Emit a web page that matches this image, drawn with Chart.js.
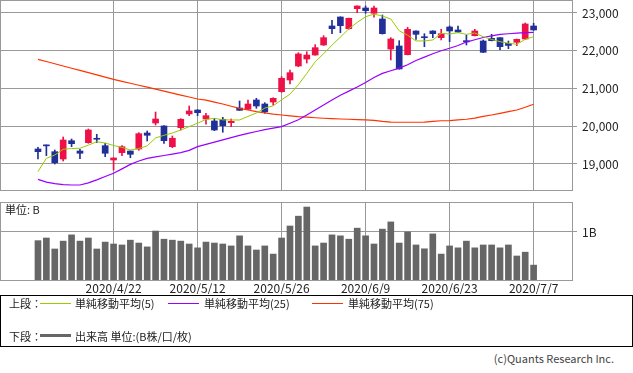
<!DOCTYPE html>
<html>
<head>
<meta charset="utf-8">
<script src="https://cdn.jsdelivr.net/npm/chart.js@4.4.0/dist/chart.umd.min.js"></script>
<style>
  body { margin: 0; background: #fff; width: 633px; height: 373px; position: relative; overflow: hidden;
         font-family: "Noto Sans CJK JP", "Noto Sans", sans-serif; color: #222; }
  canvas { position: absolute; left: 0; }
  #price { top: 0; }
  #vol { top: 200px; }
  .t { position: absolute; font-size: 11px; line-height: 12px; white-space: nowrap; }
  .ln { position: absolute; height: 0; width: 31px; }
  #legend { position: absolute; left: 0; top: 295px; width: 631px; height: 50px; border: 1px solid #000; }
</style>
</head>
<body>
<canvas id="price" width="633" height="192"></canvas>
<canvas id="vol" width="633" height="97"></canvas>
<div class="t" style="left:5px;top:203px">単位: B</div>
<div id="legend">
  <div class="t" style="left:8px;top:1px">上段：</div>
  <div class="ln" style="left:39px;top:7px;border-top:1px solid #99cc00"></div>
  <div class="t" style="left:74px;top:1px">単純移動平均(5)</div>
  <div class="ln" style="left:167px;top:7px;border-top:1px solid #9900ff"></div>
  <div class="t" style="left:203px;top:1px">単純移動平均(25)</div>
  <div class="ln" style="left:311px;top:7px;border-top:1px solid #ff3300"></div>
  <div class="t" style="left:347px;top:1px">単純移動平均(75)</div>
  <div class="t" style="left:8px;top:34px">下段：</div>
  <div class="ln" style="left:39px;top:38px;border-top:3px solid #666"></div>
  <div class="t" style="left:74px;top:34px">出来高 単位:(B株/口/枚)</div>
</div>
<div class="t" style="right:19px;top:352px;color:#444">(c)Quants Research Inc.</div>

<script>
const dates = ['2020/4/9','2020/4/10','2020/4/13','2020/4/14','2020/4/15','2020/4/16','2020/4/17','2020/4/20','2020/4/21','2020/4/22',
  '2020/4/23','2020/4/24','2020/4/27','2020/4/28','2020/4/30','2020/5/1','2020/5/7','2020/5/8','2020/5/11','2020/5/12',
  '2020/5/13','2020/5/14','2020/5/15','2020/5/18','2020/5/19','2020/5/20','2020/5/21','2020/5/22','2020/5/25','2020/5/26',
  '2020/5/27','2020/5/28','2020/5/29','2020/6/1','2020/6/2','2020/6/3','2020/6/4','2020/6/5','2020/6/8','2020/6/9',
  '2020/6/10','2020/6/11','2020/6/12','2020/6/15','2020/6/16','2020/6/17','2020/6/18','2020/6/19','2020/6/22','2020/6/23',
  '2020/6/24','2020/6/25','2020/6/26','2020/6/29','2020/6/30','2020/7/1','2020/7/2','2020/7/3','2020/7/6','2020/7/7'];

const open = [19397,19500,19326,19132,19617,19344,19564,19680,19485,19106,
  19299,19344,19397,19821,20086,20007,19458,19962,20325,20430,
  20192,20139,20184,20094,20483,20449,20695,20589,20642,20915,
  21225,21596,21781,21887,22152,22656,22894,22585,23114,23132,
  22992,22841,22046,22126,21895,22523,22370,22523,22346,22629,
  22550,22267,22399,22258,22329,22346,22197,22224,22311,22656];
const high = [19442,19505,19371,19715,19662,19389,19927,19787,19548,19165,
  19485,19350,19830,19874,20377,20020,19742,20200,20536,20440,
  20343,20210,20237,20192,20669,20695,20740,20624,20756,21313,
  21490,21948,21975,22161,22399,22807,22900,22865,23190,23185,
  23185,22947,22346,22267,22621,22530,22452,22530,22568,22656,
  22656,22417,22568,22285,22435,22350,22258,22310,22735,22727];
const low = [19132,19220,19000,19079,19458,19141,19548,19564,19194,18841,
  19220,19167,19363,19609,20033,19548,19432,19901,20280,20280,
  20052,19883,19840,19988,20420,20440,20475,20343,20563,20900,
  21119,21578,21675,21880,22140,22452,22478,22568,23008,22992,
  22886,22440,21755,21510,21890,22303,22107,22346,22285,22240,
  22478,22152,22390,21948,22260,22028,22054,22134,22300,22540];
const close = [19326,19480,19034,19636,19538,19284,19901,19655,19284,19159,
  19458,19257,19803,19760,20192,19617,19681,20184,20404,20359,
  20280,19901,20015,20130,20422,20589,20536,20377,20740,21270,
  21419,21914,21887,22081,22346,22585,22664,22860,23185,23061,
  23132,22452,22311,21517,22568,22435,22345,22452,22452,22523,
  22497,22235,22523,21959,22267,22107,22140,22303,22709,22550];

const ma5 = [18800,19150,19238,19390,19410,19416,19500,19591,19555,19490,
  19440,19371,19410,19480,19690,19760,19820,19900,19990,20080,
  20180,20210,20170,20166,20166,20260,20350,20480,20540,20700,
  20850,21100,21400,21710,21920,22150,22360,22580,22750,22900,
  22970,22920,22840,22530,22410,22260,22260,22285,22460,22444,
  22478,22435,22470,22370,22300,22240,22200,22170,22303,22372];
const ma25 = [18594,18520,18480,18455,18444,18444,18500,18580,18670,18754,
  18870,18990,19080,19150,19190,19225,19260,19300,19360,19460,
  19520,19580,19640,19700,19760,19810,19860,19910,19950,19990,
  20080,20170,20300,20430,20560,20695,20820,20930,21040,21160,
  21290,21400,21470,21540,21630,21740,21830,21920,22000,22065,
  22140,22230,22290,22350,22395,22435,22450,22465,22478,22488];
const ma75 = [21773,21714,21655,21596,21537,21478,21420,21361,21302,21243,
  21190,21138,21086,21034,20982,20930,20878,20826,20774,20722,
  20690,20640,20590,20530,20475,20430,20385,20350,20320,20298,
  20275,20255,20240,20225,20212,20200,20192,20185,20175,20166,
  20155,20130,20110,20105,20105,20105,20108,20130,20145,20150,
  20170,20185,20215,20260,20298,20340,20385,20430,20502,20582];

// 出来高 (B)
const volume = [0.82,0.875,0.646,0.81,0.94,0.81,0.875,0.646,0.79,0.75,
  0.73,0.83,0.77,0.69,1.02,0.85,0.83,0.81,0.75,0.67,
  0.79,0.77,0.75,0.71,0.92,0.71,0.625,0.71,0.54,0.875,
  1.125,1.33,1.52,0.71,0.77,0.94,0.92,0.85,1.08,0.92,
  0.75,1.06,1.21,0.77,1.0,0.73,0.65,0.96,0.54,0.71,
  0.67,0.81,0.67,0.73,0.73,0.67,0.73,0.5,0.58,0.31];

const tickIdx = [9, 19, 29, 39, 49, 59];
const priceTicks = [19000, 20000, 21000, 22000, 23000];
const volTicks = [1];

const FONT = '"Noto Sans CJK JP", "Noto Sans", sans-serif';
const UP = '#ee1148', DOWN = '#203098', GRID = '#999999';
const X_MIN = -4.52, X_MAX = 63.57;

const pts = arr => arr.map((v, i) => ({ x: i, y: v }));
const candleColor = c => close[c.dataIndex] >= open[c.dataIndex] ? UP : DOWN;

// frame round the plot area
const frame = {
  id: 'frame',
  afterDraw(chart) {
    const a = chart.chartArea, ctx = chart.ctx;
    ctx.save();
    ctx.strokeStyle = GRID;
    ctx.lineWidth = 1;
    ctx.strokeRect(Math.round(a.left) + 0.5, Math.round(a.top) + 0.5,
      Math.round(a.right - a.left), Math.round(a.bottom - a.top));
    ctx.restore();
  }
};

const noPad = s => { s.paddingTop = 0; s.paddingBottom = 0; s.paddingLeft = 0; s.paddingRight = 0; };

function xScale(showLabels) {
  return {
    type: 'linear', min: X_MIN, max: X_MAX, offset: false,
    afterBuildTicks: s => { s.ticks = tickIdx.map(v => ({ value: v })); },
    afterFit: s => { s.height = showLabels ? 14 : 0; noPad(s); },
    grid: { color: GRID, drawTicks: false, offset: false },
    border: { display: false },
    ticks: { display: showLabels, autoSkip: false, maxRotation: 0, padding: 1, color: '#222',
      font: { size: 12, family: FONT }, callback: v => dates[v] }
  };
}

function yScale(min, max, vals, fmt) {
  return {
    type: 'linear', position: 'right', min: min, max: max,
    afterBuildTicks: s => { s.ticks = vals.map(v => ({ value: v })); },
    afterFit: s => { s.width = 61; noPad(s); },
    grid: { color: GRID, drawTicks: true, tickLength: 5 },
    border: { display: false },
    ticks: { padding: 5, color: '#222', font: { size: 12, family: FONT }, callback: fmt }
  };
}

const common = {
  responsive: false, animation: false, devicePixelRatio: 1,
  plugins: { legend: { display: false }, tooltip: { enabled: false } }
};

new Chart(document.getElementById('price'), {
  type: 'bar',
  data: {
    datasets: [
      { type: 'line', data: pts(ma5), borderColor: '#99cc00', borderWidth: 1, pointRadius: 0, order: 0 },
      { type: 'line', data: pts(ma25), borderColor: '#9900ff', borderWidth: 1.2, pointRadius: 0, order: 0 },
      { type: 'line', data: pts(ma75), borderColor: '#ff3300', borderWidth: 1.2, pointRadius: 0, order: 0 },
      { data: open.map((o, i) => ({ x: i, y: [o, close[i]] })), backgroundColor: candleColor,
        barThickness: 6, minBarLength: 1, grouped: false, order: 1 },
      { data: low.map((l, i) => ({ x: i, y: [l, high[i]] })), backgroundColor: candleColor,
        barThickness: 1, grouped: false, order: 2 }
    ]
  },
  options: {
    ...common,
    layout: { autoPadding: false, padding: { top: 0, bottom: 2, left: 0, right: 0 } },
    scales: {
      x: xScale(false),
      y: yScale(18311, 23344, priceTicks, v => v.toLocaleString('en-US'))
    }
  },
  plugins: [frame]
});

new Chart(document.getElementById('vol'), {
  type: 'bar',
  data: {
    datasets: [
      { data: pts(volume), backgroundColor: '#666666', barThickness: 6, grouped: false }
    ]
  },
  options: {
    ...common,
    layout: { autoPadding: false, padding: { top: 2, bottom: 3, left: 0, right: 0 } },
    scales: {
      x: xScale(true),
      y: yScale(0, 1.625, volTicks, v => v + 'B')
    }
  },
  plugins: [frame]
});
</script>
</body>
</html>
